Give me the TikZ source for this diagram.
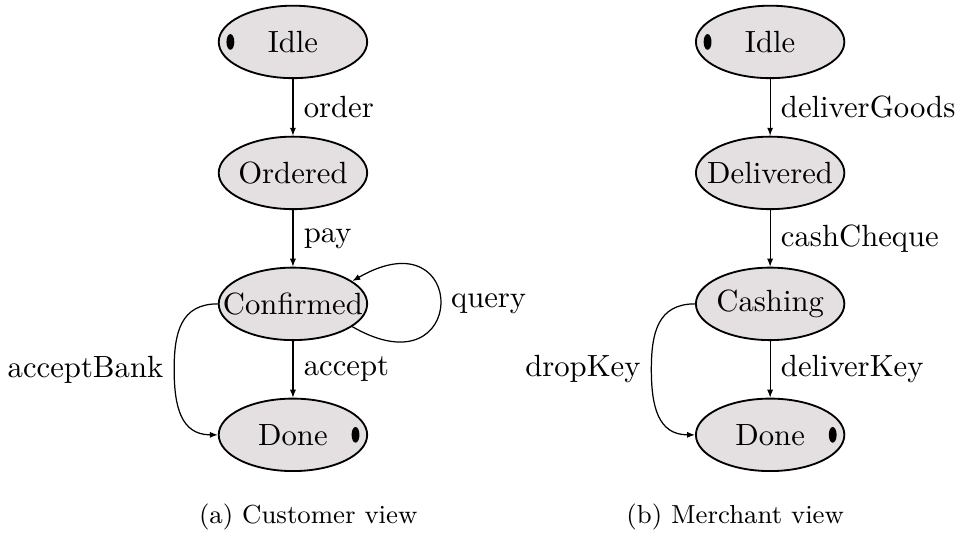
\documentclass[tikz,border=0pt]{standalone}
\usetikzlibrary{positioning,shapes.geometric,arrows.meta}
\definecolor{statefill}{RGB}{228,224,226}

\begin{document}
\begin{tikzpicture}[
  state/.style={ellipse, draw, line width=0.6pt, fill=statefill, inner sep=0pt, minimum width=1.70cm, minimum height=0.83cm},
  enddot/.style={ellipse, fill=black, inner sep=0pt, minimum width=0.09cm, minimum height=0.18cm},
  trans/.style={-{Latex[length=2.6pt,width=2pt]}},
  caption/.style={font=\fontsize{8.5}{10}\selectfont}
]
\useasboundingbox (0,0) rectangle (10.96,-6.115);

% customer view
\node[state] (idleA) at (3.355,-0.48) {\makebox[0pt]{Idle}};
\node[state] (orderedA) at (3.355,-1.98) {\makebox[0pt]{Ordered}};
\node[state] (confirmedA) at (3.355,-3.48) {\makebox[0pt]{Confirmed}};
\node[state] (doneA) at (3.355,-4.98) {\makebox[0pt]{Done}};
\node[enddot, right=0.092 of idleA.west] (idleAdot) {};
\node[enddot, left=0.092 of doneA.east] (doneAdot) {};

\draw[trans] (idleA) -- node[right] {order} (orderedA);
\draw[trans] (orderedA) -- node[right] {pay} (confirmedA);
\draw[trans] (confirmedA) -- node[right] {accept} (doneA);
\draw[trans] (confirmedA.-21) .. controls +(-30:1.55) and +(30:1.55) .. node[right] {query} (confirmedA.21);
\draw[trans] (confirmedA.west) to[out=180,in=90,looseness=1.2] ++(-0.5,-0.75) node[left] {acceptBank}
  to[out=-90,in=180,looseness=1.2] (doneA.west);

% merchant view
\node[state] (idleB) at (8.82,-0.48) {\makebox[0pt]{Idle}};
\node[state] (deliveredB) at (8.82,-1.98) {\makebox[0pt]{Delivered}};
\node[state] (cashingB) at (8.82,-3.48) {\makebox[0pt]{Cashing}};
\node[state] (doneB) at (8.82,-4.98) {\makebox[0pt]{Done}};
\node[enddot, right=0.092 of idleB.west] (idleBdot) {};
\node[enddot, left=0.092 of doneB.east] (doneBdot) {};

\draw[trans] (idleB) -- node[right] {deliverGoods} (deliveredB);
\draw[trans] (deliveredB) -- node[right] {cashCheque} (cashingB);
\draw[trans] (cashingB) -- node[right] {deliverKey} (doneB);
\draw[trans] (cashingB.west) to[out=180,in=90,looseness=1.2] ++(-0.5,-0.75) node[left] {dropKey}
  to[out=-90,in=180,looseness=1.2] (doneB.west);

\node[caption] (capA) at (3.53,-5.92) {(a) Customer view};
\node[caption] (capB) at (8.42,-5.92) {(b) Merchant view};

\end{tikzpicture}
\end{document}
